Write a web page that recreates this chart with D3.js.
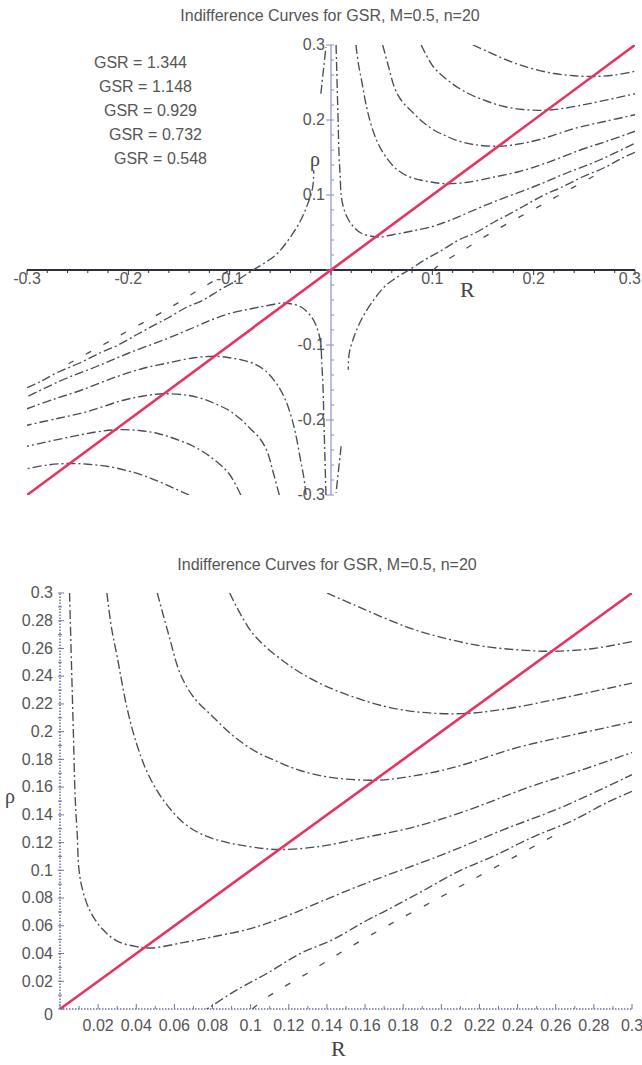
<!DOCTYPE html>
<html>
<head>
<meta charset="utf-8">
<script src="https://cdn.jsdelivr.net/npm/d3@7"></script>
<style>
  body { margin: 0; background: #fff; }
  svg { display: block; }
</style>
</head>
<body>
<svg id="chart"></svg>
<script>
const W = 642, H = 1065;

// titles and labels
const chartTitle = "Indifference Curves for GSR, M=0.5, n=20";
const gsrLabels = ["GSR = 1.344", "GSR = 1.148", "GSR = 0.929", "GSR = 0.732", "GSR = 0.548"];
const topTicks = [-0.3, -0.2, -0.1, 0.1, 0.2, 0.3];
const bottomTicks = [0.02, 0.04, 0.06, 0.08, 0.1, 0.12, 0.14, 0.16, 0.18, 0.2, 0.22, 0.24, 0.26, 0.28, 0.3];

// indifference curves, [R, rho] (quadrant R>0)
const curveA = [[0.005,0.300],[0.006,0.250],[0.007,0.200],[0.008,0.151],[0.009,0.127],[0.010,0.100],
  [0.012,0.085],[0.016,0.070],[0.022,0.058],[0.030,0.049],[0.040,0.045],[0.048,0.044],[0.065,0.048],
  [0.080,0.052],[0.100,0.058],[0.117,0.066],[0.136,0.077],[0.161,0.091],[0.200,0.111],[0.232,0.129],
  [0.264,0.146],[0.300,0.169]];
const curveB = [[0.0246,0.300],[0.027,0.275],[0.030,0.254],[0.035,0.218],[0.040,0.192],[0.046,0.170],
  [0.054,0.151],[0.065,0.134],[0.076,0.125],[0.088,0.120],[0.100,0.117],[0.114,0.115],[0.135,0.117],
  [0.161,0.124],[0.185,0.131],[0.211,0.142],[0.246,0.160],[0.275,0.173],[0.300,0.185]];
const curveC = [[0.051,0.300],[0.057,0.270],[0.063,0.242],[0.070,0.225],[0.080,0.211],[0.090,0.198],
  [0.101,0.187],[0.113,0.179],[0.126,0.172],[0.142,0.167],[0.166,0.165],[0.185,0.168],[0.206,0.174],
  [0.241,0.189],[0.270,0.198],[0.300,0.207]];
const curveD = [[0.089,0.300],[0.101,0.271],[0.119,0.249],[0.136,0.235],[0.154,0.225],[0.171,0.218],
  [0.189,0.214],[0.211,0.213],[0.232,0.216],[0.259,0.223],[0.300,0.235]];
const curveE = [[0.140,0.300],[0.155,0.291],[0.170,0.282],[0.185,0.274],[0.200,0.268],[0.220,0.262],
  [0.240,0.259],[0.259,0.258],[0.280,0.260],[0.300,0.265]];
// lower branch, crosses R axis near 0.077 and falls along the rho axis (gap as drawn)
const curveF = [[0.300,0.157],[0.287,0.149],[0.269,0.136],[0.248,0.124],[0.227,0.110],[0.210,0.100],
  [0.190,0.085],[0.171,0.071],[0.161,0.064],[0.143,0.050],[0.126,0.040],[0.109,0.026],[0.093,0.014],
  [0.077,0.000],[0.067,-0.008],[0.053,-0.022],[0.040,-0.044],[0.030,-0.066],[0.023,-0.088],
  [0.018,-0.111],[0.017,-0.133],null,[0.010,-0.235],[0.008,-0.260],[0.005,-0.297]];
// faint broken curve under F
const curveG = [[0.101,0.000],[0.106,0.006],[0.115,0.014],[0.130,0.026],[0.150,0.043],[0.173,0.061],
  [0.200,0.081],[0.224,0.099],[0.259,0.125]];
const diagonal = [[-0.3,-0.3],[0.3,0.3]];

const curveList = [curveA, curveB, curveC, curveD, curveE, curveF];
const curveColor = "#474d5a";
const redColor = "#e6335f";
const labelColor = "#555";
const sans = "'Liberation Sans', Arial, sans-serif";
const serif = "'Liberation Serif', 'Times New Roman', serif";

const svg = d3.select("#chart").attr("width", W).attr("height", H);

function drawCurves(g, xs, ys) {
  const line = d3.line().defined(d => d !== null).x(d => xs(d[0])).y(d => ys(d[1])).curve(d3.curveCatmullRom);
  g.selectAll(null).data(curveList).enter().append("path")
    .attr("d", line).attr("fill", "none").attr("stroke", curveColor)
    .attr("stroke-width", 1.35).attr("stroke-dasharray", "9,3,2,3");
  g.append("path").datum(curveG).attr("d", line).attr("fill", "none").attr("stroke", curveColor)
    .attr("stroke-width", 1.3).attr("stroke-dasharray", "6,14");
}

// ---------- top chart ----------
const xTop = d3.scaleLinear().domain([-0.3, 0.3]).range([27, 635]);
const yTop = d3.scaleLinear().domain([-0.3, 0.3]).range([495, 45]);
// same data seen through point-reflected scales gives the R<0 quadrant
const xTopM = d3.scaleLinear().domain([0.3, -0.3]).range([27, 635]);
const yTopM = d3.scaleLinear().domain([0.3, -0.3]).range([495, 45]);

svg.append("text").attr("x", 330).attr("y", 21).attr("text-anchor", "middle")
  .attr("font-family", sans).attr("font-size", 16).attr("fill", labelColor).text(chartTitle);

svg.append("text").attr("x", 327).attr("y", 570).attr("text-anchor", "middle")
  .attr("font-family", sans).attr("font-size", 16).attr("fill", labelColor).text(chartTitle);

svg.append("clipPath").attr("id", "clipTop").append("rect")
  .attr("x", xTop(-0.3)).attr("y", yTop(0.3))
  .attr("width", xTop(0.3) - xTop(-0.3)).attr("height", yTop(-0.3) - yTop(0.3));

const topG = svg.append("g");

// axes
topG.append("line").attr("x1", xTop(-0.3)).attr("x2", xTop(0.3))
  .attr("y1", yTop(0)).attr("y2", yTop(0)).attr("stroke", "#2a2f3a").attr("stroke-width", 2);
topG.append("line").attr("x1", xTop(0)).attr("x2", xTop(0))
  .attr("y1", yTop(0.3)).attr("y2", yTop(-0.3)).attr("stroke", "#9a9ad4").attr("stroke-width", 1.3);

const minorTop = d3.range(-30, 31, 2).map(d => d / 100);
const isMajor = d => Math.abs(d * 10 - Math.round(d * 10)) < 1e-6;
topG.selectAll(".xminor").data(minorTop).enter().append("line")
  .attr("x1", d => xTop(d)).attr("x2", d => xTop(d))
  .attr("y1", yTop(0)).attr("y2", d => yTop(0) + (isMajor(d) ? 5 : 3))
  .attr("stroke", "#2a2f3a").attr("stroke-width", 1);
topG.selectAll(".yminor").data(minorTop).enter().append("line")
  .attr("y1", d => yTop(d)).attr("y2", d => yTop(d))
  .attr("x1", d => xTop(0) - (isMajor(d) ? 5 : 0))
  .attr("x2", xTop(0) + 3)
  .attr("stroke", "#8a8ac8").attr("stroke-width", 1);

// last label sits against the right edge
topG.selectAll(".xlab").data(topTicks).enter().append("text")
  .attr("x", d => d === 0.3 ? W - 1 : xTop(d)).attr("y", yTop(0) + 14)
  .attr("text-anchor", d => d === 0.3 ? "end" : "middle")
  .attr("font-family", sans).attr("font-size", 16)
  .attr("fill", labelColor).text(d => d.toFixed(1));
topG.selectAll(".ylab").data(topTicks).enter().append("text")
  .attr("x", xTop(0) - 6).attr("y", d => yTop(d)).attr("dy", "0.33em")
  .attr("text-anchor", "end").attr("font-family", sans).attr("font-size", 16)
  .attr("fill", labelColor).text(d => d.toFixed(1));

topG.append("text").attr("x", 460).attr("y", 297).attr("font-family", serif)
  .attr("font-size", 22).attr("fill", "#444").text("R");
topG.append("text").attr("x", 310).attr("y", 166).attr("font-family", serif)
  .attr("font-size", 20).attr("fill", "#444").text("ρ");

topG.selectAll(".gsr").data(gsrLabels).enter().append("text")
  .attr("x", (d, i) => 94 + i * 5).attr("y", (d, i) => 68 + i * 24)
  .attr("font-family", sans).attr("font-size", 16).attr("fill", labelColor).text(d => d);

const plotTop = topG.append("g").attr("clip-path", "url(#clipTop)");
drawCurves(plotTop, xTop, yTop);
drawCurves(plotTop, xTopM, yTopM);

plotTop.append("path").datum(diagonal)
  .attr("d", d3.line().x(d => xTop(d[0])).y(d => yTop(d[1])))
  .attr("stroke", redColor).attr("stroke-width", 2.6).attr("fill", "none");

// ---------- bottom chart ----------
const xBot = d3.scaleLinear().domain([0, 0.3]).range([60, 632]);
const yBot = d3.scaleLinear().domain([0, 0.3]).range([1009, 593]);

svg.append("clipPath").attr("id", "clipBot").append("rect")
  .attr("x", xBot(0)).attr("y", yBot(0.3))
  .attr("width", xBot(0.3) - xBot(0)).attr("height", yBot(0) - yBot(0.3));

const botG = svg.append("g");
const axisBlue = "#6f74aa";

botG.append("line").attr("x1", xBot(0)).attr("x2", xBot(0.3)).attr("y1", yBot(0)).attr("y2", yBot(0))
  .attr("stroke", axisBlue).attr("stroke-width", 1.6).attr("stroke-dasharray", "1.5,1.5");
botG.append("line").attr("x1", xBot(0)).attr("x2", xBot(0)).attr("y1", yBot(0)).attr("y2", yBot(0.3))
  .attr("stroke", axisBlue).attr("stroke-width", 1.6).attr("stroke-dasharray", "1.5,1.5");

const minorBot = d3.range(0, 31, 1).map(d => d / 100);
botG.selectAll(".bxt").data(minorBot).enter().append("line")
  .attr("x1", d => xBot(d)).attr("x2", d => xBot(d))
  .attr("y1", yBot(0)).attr("y2", (d, i) => yBot(0) - (i % 2 === 0 ? 5 : 3))
  .attr("stroke", axisBlue).attr("stroke-width", 1);
botG.selectAll(".byt").data(minorBot).enter().append("line")
  .attr("y1", d => yBot(d)).attr("y2", d => yBot(d))
  .attr("x1", xBot(0) - 2).attr("x2", (d, i) => xBot(0) + (i % 2 === 0 ? 4 : 2))
  .attr("stroke", axisBlue).attr("stroke-width", 1);

botG.selectAll(".bxl").data(bottomTicks).enter().append("text")
  .attr("x", d => xBot(d)).attr("y", yBot(0) + 22)
  .attr("text-anchor", "middle").attr("font-family", sans).attr("font-size", 16)
  .attr("fill", labelColor).text(d => String(+d.toFixed(2)));
botG.selectAll(".byl").data([0].concat(bottomTicks)).enter().append("text")
  .attr("x", xBot(0) - 7).attr("y", d => yBot(d) + (d === 0 ? 6 : 0)).attr("dy", "0.33em")
  .attr("text-anchor", "end").attr("font-family", sans).attr("font-size", 16)
  .attr("fill", labelColor).text(d => String(+d.toFixed(2)));

botG.append("text").attr("x", 331).attr("y", 1056).attr("font-family", serif)
  .attr("font-size", 22).attr("fill", "#444").text("R");
botG.append("text").attr("x", 5).attr("y", 803).attr("font-family", serif)
  .attr("font-size", 20).attr("fill", "#444").text("ρ");

const plotBot = botG.append("g").attr("clip-path", "url(#clipBot)");
drawCurves(plotBot, xBot, yBot);

plotBot.append("path").datum(diagonal)
  .attr("d", d3.line().x(d => xBot(d[0])).y(d => yBot(d[1])))
  .attr("stroke", redColor).attr("stroke-width", 2.6).attr("fill", "none");
</script>
</body>
</html>
